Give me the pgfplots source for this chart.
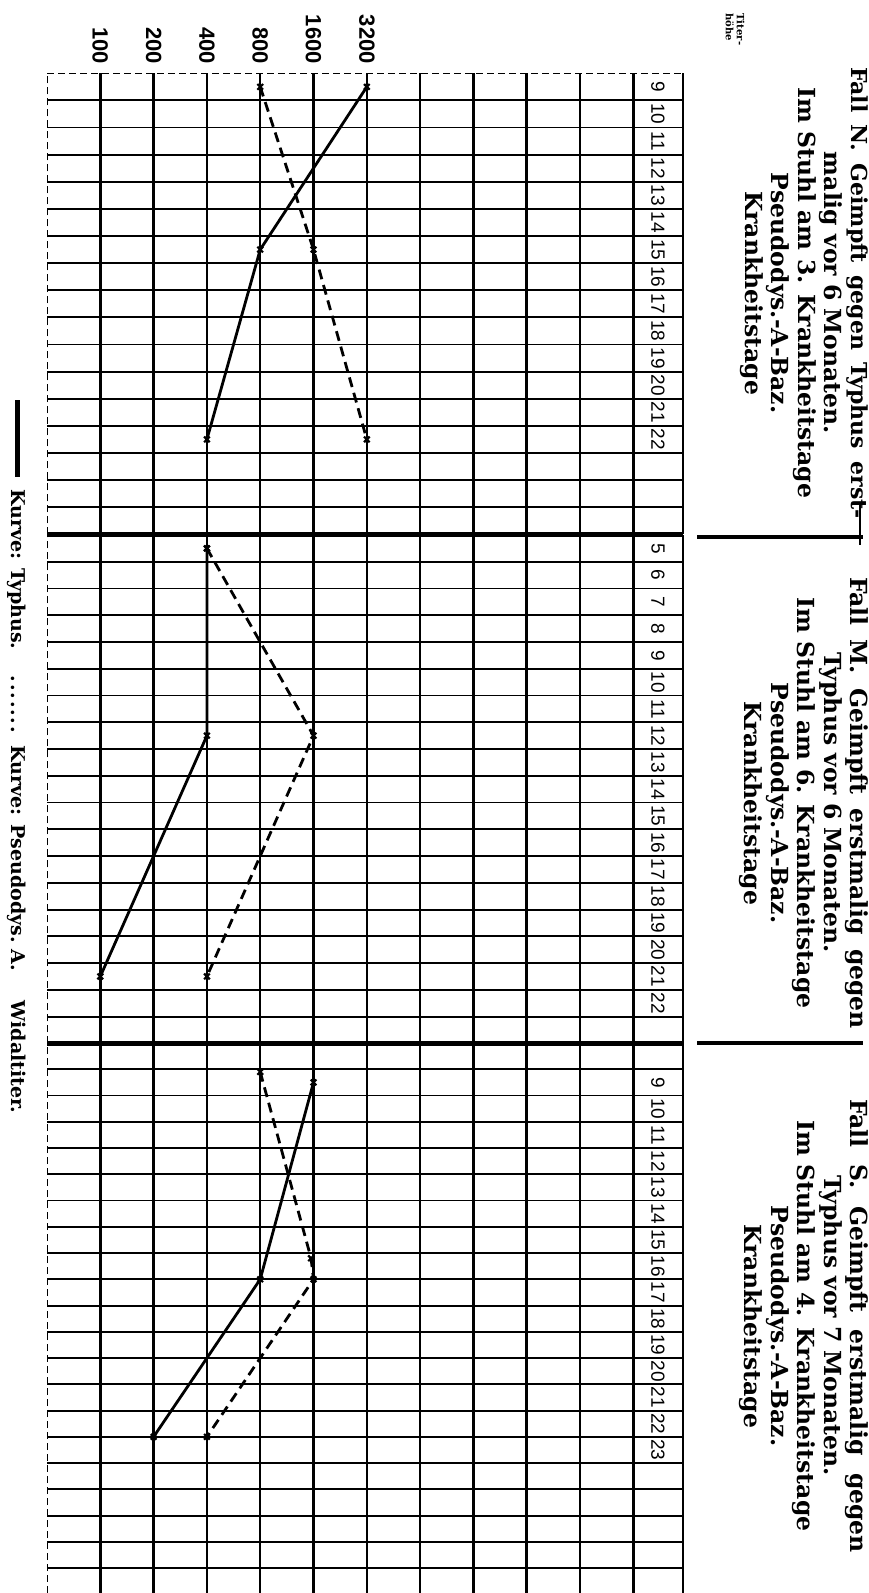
\documentclass[border=0pt]{standalone}
\usepackage{pgfplots}
\pgfplotsset{compat=1.18}
\usepackage{fontspec}
\setmainfont{DejaVu Serif}
\newfontfamily\numfont{Liberation Sans}
\pgfplotsset{
  typh/.style={black, line width=2.8pt, mark=x, mark size=4pt, mark options={solid, line width=2.2pt}},
  pseu/.style={black, line width=2.8pt, dash pattern=on 10pt off 6pt, mark=x, mark size=4pt, mark options={solid, line width=2.2pt}},
}
\begin{document}
\begin{tikzpicture}
% ---------- Panel 1 ----------
\begin{axis}[
  xmode=log, log basis x=2, xmin=50, xmax=195400,
  width=636pt, scale only axis, y dir=reverse, anchor=north west, clip=false,
  axis line style={draw=none}, major tick length=0pt, minor tick length=0pt,
  xtick={100,200,400,800,1600,3200,6400,12800,25600,51200,102400},
  xmajorgrids, x grid style={black, line width=2.5pt},
  yminorgrids, minor y grid style={black, line width=1.9pt},
  yticklabel pos=right,
  yticklabel style={xshift=-25pt, rotate=-90, anchor=center, font=\numfont\fontsize{19}{19}\selectfont},
  at={(47pt,-73.3pt)}, height=461pt, ymin=8.5, ymax=25.5,
  xticklabel pos=upper,
  xticklabels={100,200,400,800,1600,3200,,,,,},
  xticklabel style={yshift=6pt, rotate=-90, anchor=east, font=\numfont\bfseries\fontsize{22}{22}\selectfont},
  ytick={9,10,...,22},
  yticklabels={9,10,11,12,13,14,15,16,17,18,19,20,21,22},
  minor ytick={9.5,10.5,...,24.5}]
\addplot[typh] coordinates {(3200,9) (800,15) (400,22)};
\addplot[pseu] coordinates {(800,9) (1600,15) (3200,22)};
\draw[line width=2.5pt] (rel axis cs:1,0) -- (rel axis cs:1,1);
\draw[line width=0.9pt, dash pattern=on 7pt off 4pt] (rel axis cs:0,0) -- (rel axis cs:0,1);
\draw[line width=0.9pt, dash pattern=on 7pt off 4pt] (rel axis cs:0,1) -- (rel axis cs:1,1);
\draw[line width=4.5pt] (rel axis cs:0,0) -- (rel axis cs:1,0);
\end{axis}
% ---------- Panel 2 ----------
\begin{axis}[
  xmode=log, log basis x=2, xmin=50, xmax=195400,
  width=636pt, scale only axis, y dir=reverse, anchor=north west, clip=false,
  axis line style={draw=none}, major tick length=0pt, minor tick length=0pt,
  xtick={100,200,400,800,1600,3200,6400,12800,25600,51200,102400},
  xmajorgrids, x grid style={black, line width=2.5pt},
  yminorgrids, minor y grid style={black, line width=1.9pt},
  yticklabel pos=right,
  yticklabel style={xshift=-25pt, rotate=-90, anchor=center, font=\numfont\fontsize{19}{19}\selectfont},
  at={(47pt,-535pt)}, height=508.3pt, ymin=4.5, ymax=23.5,
  xticklabels={},
  ytick={5,6,...,22},
  yticklabels={5,6,7,8,9,10,11,12,13,14,15,16,17,18,19,20,21,22},
  minor ytick={5.5,6.5,...,22.5}]
\addplot[typh] coordinates {(400,5) (400,12) (100,21)};
\addplot[pseu] coordinates {(400,5) (1600,12) (400,21)};
\draw[line width=2.5pt] (rel axis cs:1,0) -- (rel axis cs:1,1);
\draw[line width=0.9pt, dash pattern=on 7pt off 4pt] (rel axis cs:0,0) -- (rel axis cs:0,1);
\draw[line width=4.5pt] (rel axis cs:0,0) -- (rel axis cs:1,0);
\end{axis}
% ---------- Panel 3 ----------
\begin{axis}[
  xmode=log, log basis x=2, xmin=50, xmax=195400,
  width=636pt, scale only axis, y dir=reverse, anchor=north west, clip=false,
  axis line style={draw=none}, major tick length=0pt, minor tick length=0pt,
  xtick={100,200,400,800,1600,3200,6400,12800,25600,51200,102400},
  xmajorgrids, x grid style={black, line width=2.5pt},
  yminorgrids, minor y grid style={black, line width=1.9pt},
  yticklabel pos=right,
  yticklabel style={xshift=-25pt, rotate=-90, anchor=center, font=\numfont\fontsize{19}{19}\selectfont},
  at={(47pt,-1043pt)}, height=550pt, ymin=7.5, ymax=28.45,
  xticklabels={},
  ytick={9,10,...,23},
  yticklabels={9,10,11,12,13,14,15,16,17,18,19,20,21,22,23},
  minor ytick={8.5,9.5,...,27.5}]
\addplot[typh] coordinates {(1600,9) (800,16.5) (200,22.5)};
\addplot[pseu] coordinates {(800,8.6) (1550,15.7) (1600,16.5) (400,22.5)};
\draw[line width=2.5pt] (rel axis cs:1,0) -- (rel axis cs:1,1);
\draw[line width=0.9pt, dash pattern=on 7pt off 4pt] (rel axis cs:0,0) -- (rel axis cs:0,1);
\end{axis}
% ---------- headers ----------
\draw[line width=4.5pt] (697pt,-537pt) -- (863pt,-537pt);
\draw[line width=4.5pt] (697pt,-1043pt) -- (863pt,-1043pt);
\draw[line width=2pt] (860pt,-505pt) -- (860pt,-545pt);
\tikzset{hdr/.style={rotate=-90, align=center, anchor=center, font=\bfseries\fontsize{23.5}{26.5}\selectfont}}
\node[hdr] at (804pt,-293pt) {{\fontsize{22}{26.5}\selectfont\makebox[452pt][s]{Fall N. Geimpft gegen Typhus erst-}}\\malig vor 6 Monaten.\\Im Stuhl am 3. Krankheitstage\\Pseudodys.-A-Baz.\\Krankheitstage};
\node[hdr] at (804pt,-803pt) {\makebox[452pt][s]{Fall M. Geimpft erstmalig gegen}\\Typhus vor 6 Monaten.\\Im Stuhl am 6. Krankheitstage\\Pseudodys.-A-Baz.\\Krankheitstage};
\node[hdr] at (804pt,-1326pt) {\makebox[454pt][s]{Fall S. Geimpft erstmalig gegen}\\Typhus vor 7 Monaten.\\Im Stuhl am 4. Krankheitstage\\Pseudodys.-A-Baz.\\Krankheitstage};
\node[rotate=-90, align=left, anchor=north west, font=\bfseries\fontsize{10}{11}\selectfont] at (748pt,-10pt) {Titer-\\höhe};
% ---------- legend ----------
\node[rotate=-90, anchor=west, font=\bfseries\fontsize{19}{19}\selectfont, inner sep=0pt] at (17pt,-400pt)
  {\rule[0.3ex]{77pt}{5pt}\hspace{12pt}Kurve: Typhus.\hspace{24pt}\makebox[62pt]{\dotfill}\hspace{10pt}Kurve: Pseudodys.\ A.\hspace{30pt}Widaltiter.};
\pgfresetboundingbox
\path[use as bounding box] (0pt,0pt) rectangle (869pt,-1593pt);
\end{tikzpicture}
\end{document}
